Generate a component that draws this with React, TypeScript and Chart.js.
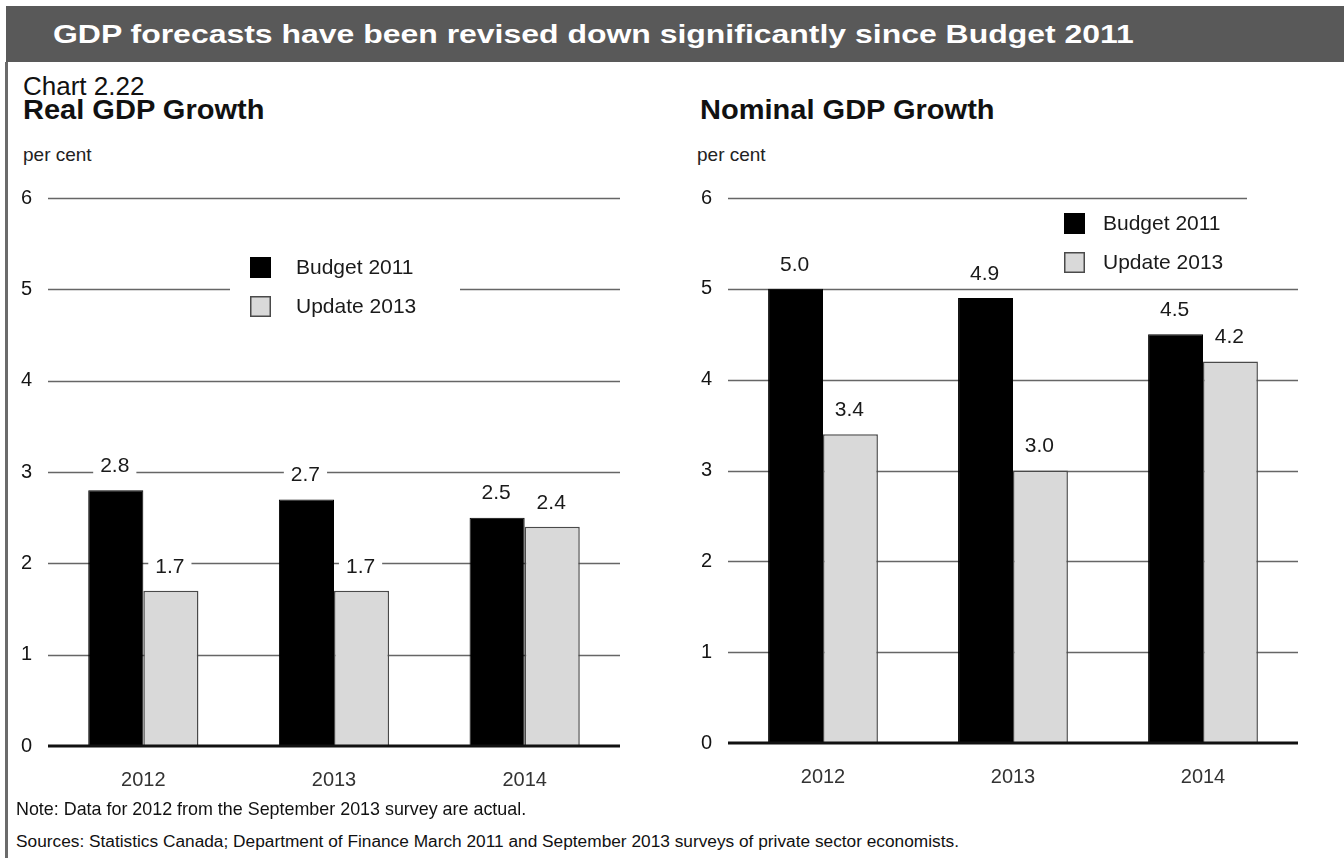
import React, { useEffect, useRef } from "react";
import { Chart, registerables } from "chart.js";

Chart.register(...registerables);

const categories = ["2012", "2013", "2014"];
const seriesNames = ["Budget 2011", "Update 2013"];
const realBudget2011 = [2.8, 2.7, 2.5];
const realUpdate2013 = [1.7, 1.7, 2.4];
const nominalBudget2011 = [5.0, 4.9, 4.5];
const nominalUpdate2013 = [3.4, 3.0, 4.2];
const yMin = 0;
const yMax = 6;
const yStep = 1;

const FONT = '"Liberation Sans", Arial, Helvetica, sans-serif';

const decorPlugin = {
  id: "decor",
  beforeDatasetsDraw(chart: any, _args: any, opts: any) {
    const { ctx, chartArea } = chart;
    const y = chart.scales.y;
    ctx.save();
    ctx.strokeStyle = opts.gridColor;
    ctx.lineWidth = opts.gridWidth;
    y.ticks.forEach((t: any) => {
      if (t.value === yMin) return;
      const py = Math.round(y.getPixelForValue(t.value)) + 0.5;
      const right =
        t.value === y.max && opts.topLineRight != null ? opts.topLineRight : chartArea.right;
      ctx.beginPath();
      ctx.moveTo(chartArea.left, py);
      ctx.lineTo(right, py);
      ctx.stroke();
    });
    ctx.restore();
  },
  afterDatasetsDraw(chart: any, _args: any, opts: any) {
    const { ctx, chartArea } = chart;
    const y = chart.scales.y;
    ctx.save();
    // zero axis
    const p0 = y.getPixelForValue(yMin);
    ctx.strokeStyle = "#111";
    ctx.lineWidth = 3;
    ctx.beginPath();
    ctx.moveTo(chartArea.left, p0);
    ctx.lineTo(chartArea.right, p0);
    ctx.stroke();

    // value labels with white backing
    ctx.font = `${opts.labelSize}px ${FONT}`;
    ctx.textAlign = "center";
    ctx.textBaseline = "middle";
    chart.data.datasets.forEach((ds: any, i: number) => {
      const meta = chart.getDatasetMeta(i);
      meta.data.forEach((bar: any, j: number) => {
        const txt = Number(ds.data[j]).toFixed(1);
        const cx = bar.x - 1;
        const cy = bar.y - opts.labelOffset;
        const w = ctx.measureText(txt).width + 14;
        const h = opts.labelSize + 4;
        ctx.fillStyle = "#fff";
        ctx.fillRect(cx - w / 2, cy - h / 2, w, h);
        ctx.fillStyle = "#1a1a1a";
        ctx.fillText(txt, cx, cy + 1);
      });
    });

    // legend
    const lg = opts.legend;
    if (lg.mask) {
      ctx.fillStyle = "#fff";
      ctx.fillRect(lg.mask[0], lg.mask[1], lg.mask[2], lg.mask[3]);
    }
    ctx.font = `${opts.legendSize}px ${FONT}`;
    ctx.textAlign = "left";
    ctx.textBaseline = "middle";
    chart.data.datasets.forEach((ds: any, i: number) => {
      const sy = lg.y + i * lg.gap;
      ctx.fillStyle = ds.backgroundColor;
      ctx.fillRect(lg.x, sy, lg.box, lg.box);
      ctx.strokeStyle = ds.borderColor;
      ctx.lineWidth = 1.5;
      ctx.strokeRect(lg.x + 0.75, sy + 0.75, lg.box - 1.5, lg.box - 1.5);
      ctx.fillStyle = "#1a1a1a";
      ctx.fillText(ds.label, lg.textX, sy + lg.box / 2 + 1);
    });
    ctx.restore();
  },
};

type PanelProps = {
  left: number;
  top: number;
  width: number;
  height: number;
  budget: number[];
  update: number[];
  yWidth: number;
  xHeight: number;
  padTop: number;
  padRight: number;
  topLineRight?: number;
  legend: any;
};

function Panel(p: PanelProps) {
  const ref = useRef<HTMLCanvasElement | null>(null);
  useEffect(() => {
    if (!ref.current) return;
    const chart = new Chart(ref.current, {
      type: "bar",
      data: {
        labels: categories,
        datasets: [
          {
            label: seriesNames[0],
            data: p.budget,
            backgroundColor: "#000000",
            borderColor: "#000000",
            borderWidth: 1,
          },
          {
            label: seriesNames[1],
            data: p.update,
            backgroundColor: "#d9d9d9",
            borderColor: "#4a4a4a",
            borderWidth: 1.5,
          },
        ],
      },
      options: {
        animation: false,
        responsive: false,
        maintainAspectRatio: false,
        layout: { padding: { left: 0, right: p.padRight, top: p.padTop, bottom: 0 } },
        datasets: { bar: { categoryPercentage: 0.578, barPercentage: 1 } } as any,
        plugins: {
          legend: { display: false },
          tooltip: { enabled: false },
          decor: {
            gridColor: "#666666",
            gridWidth: 1.7,
            topLineRight: p.topLineRight,
            labelSize: 21,
            labelOffset: 25,
            legendSize: 21,
            legend: p.legend,
          },
        } as any,
        scales: {
          x: {
            grid: { display: false, drawTicks: false },
            border: { display: false },
            ticks: { font: { family: FONT, size: 20 }, color: "#333", padding: 22 },
            afterFit: (s: any) => {
              s.height = p.xHeight;
            },
          },
          y: {
            min: yMin,
            max: yMax,
            grid: { display: false, drawTicks: false },
            border: { display: false },
            ticks: {
              stepSize: yStep,
              font: { family: FONT, size: 20 },
              color: "#151515",
              padding: 16,
            },
            afterFit: (s: any) => {
              s.width = p.yWidth;
            },
          },
        },
      },
      plugins: [decorPlugin],
    });
    return () => chart.destroy();
  }, []);
  return (
    <canvas
      ref={ref}
      width={p.width}
      height={p.height}
      style={{ position: "absolute", left: p.left, top: p.top, width: p.width, height: p.height }}
    />
  );
}

const txt = (extra: React.CSSProperties): React.CSSProperties => ({
  position: "absolute",
  fontFamily: FONT,
  lineHeight: 1,
  whiteSpace: "nowrap",
  color: "#111",
  ...extra,
});

export default function App() {
  return (
    <div
      style={{
        position: "absolute",
        left: 0,
        top: 0,
        width: 1344,
        height: 858,
        background: "#fff",
        overflow: "hidden",
      }}
    >
      <div style={{ position: "absolute", left: 6, top: 6, width: 1338, height: 56, background: "#595959" }} />
      <div
        style={txt({
          left: 53,
          top: 22,
          fontSize: 25,
          fontWeight: "bold",
          color: "#fff",
          transform: "scaleX(1.278)",
          transformOrigin: "left top",
        })}
      >
        GDP forecasts have been revised down significantly since Budget 2011
      </div>
      <div style={{ position: "absolute", left: 5, top: 62, width: 3, height: 796, background: "#6b6b6b" }} />

      <div style={txt({ left: 23, top: 73, fontSize: 26 })}>Chart 2.22</div>
      <div
        style={txt({
          left: 23,
          top: 97,
          fontSize: 27,
          fontWeight: "bold",
          transform: "scaleX(1.075)",
          transformOrigin: "left top",
        })}
      >
        Real GDP Growth
      </div>
      <div style={txt({ left: 23, top: 145, fontSize: 19, color: "#222" })}>per cent</div>

      <div
        style={txt({
          left: 700,
          top: 97,
          fontSize: 27,
          fontWeight: "bold",
          transform: "scaleX(1.075)",
          transformOrigin: "left top",
        })}
      >
        Nominal GDP Growth
      </div>
      <div style={txt({ left: 697, top: 145, fontSize: 19, color: "#222" })}>per cent</div>

      <Panel
        left={0}
        top={170}
        width={670}
        height={630}
        budget={realBudget2011}
        update={realUpdate2013}
        yWidth={48}
        xHeight={54}
        padTop={25}
        padRight={50}
        legend={{ x: 250, y: 87, gap: 39, box: 21, textX: 296, mask: [230, 78, 230, 72] }}
      />
      <Panel
        left={672}
        top={170}
        width={672}
        height={630}
        budget={nominalBudget2011}
        update={nominalUpdate2013}
        yWidth={56}
        xHeight={57}
        padTop={28}
        padRight={46}
        topLineRight={575}
        legend={{ x: 392, y: 43, gap: 39, box: 21, textX: 431 }}
      />

      <div style={txt({ left: 16, top: 801, fontSize: 17.9, color: "#111" })}>
        Note: Data for 2012 from the September 2013 survey are actual.
      </div>
      <div style={txt({ left: 16, top: 833, fontSize: 17.3, color: "#111" })}>
        Sources: Statistics Canada; Department of Finance March 2011 and September 2013 surveys of private sector
        economists.
      </div>
    </div>
  );
}
